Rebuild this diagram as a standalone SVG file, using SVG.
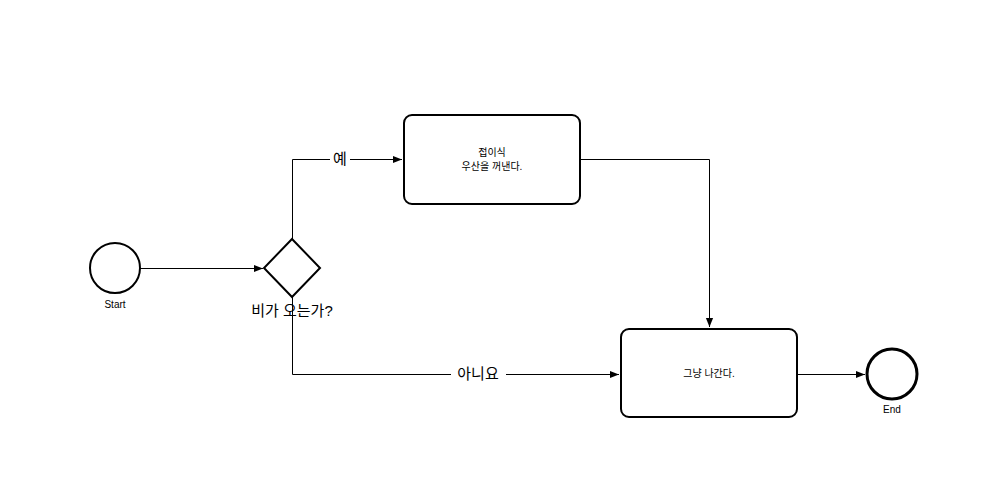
<svg xmlns="http://www.w3.org/2000/svg" width="990" height="490" viewBox="0 0 990 490">
<style>
.shape{fill:#fff;stroke:#000;stroke-width:2}
.edge{fill:none;stroke:#000;stroke-width:1}
.t{font-family:"Liberation Sans","Noto Sans CJK KR",sans-serif;fill:#000;text-anchor:middle}
.s{font-size:10px}
.l{font-size:15px}
</style>
<defs>
<marker id="arr" viewBox="0 0 10 10" refX="10" refY="5" markerWidth="9" markerHeight="9" markerUnits="userSpaceOnUse" orient="auto">
<path d="M0,1 L10,5 L0,9 Z" fill="#000"/>
</marker>
</defs>
<rect width="990" height="490" fill="#fff"/>
<g id="edges">
<path class="edge" d="M140,268.5 L263,268.5" marker-end="url(#arr)"/>
<path class="edge" d="M292.5,239 L292.5,159.5 L402,159.5" marker-end="url(#arr)"/>
<path class="edge" d="M292.5,297 L292.5,374.5 L619,374.5" marker-end="url(#arr)"/>
<path class="edge" d="M581,159.5 L709.5,159.5 L709.5,327" marker-end="url(#arr)"/>
<path class="edge" d="M798,374.5 L865,374.5" marker-end="url(#arr)"/>
<rect x="330" y="150" width="20" height="18" fill="#fff"/>
<text class="t l" x="340" y="164">예</text>
<rect x="451" y="365" width="55" height="18" fill="#fff"/>
<text class="t l" x="478" y="379">아니요</text>
</g>
<g id="start">
<circle class="shape" cx="115" cy="268" r="25"/>
<text class="t s" x="115" y="308">Start</text>
</g>
<g id="gateway">
<path class="shape" d="M292,239 L320,268 L292,297 L264,268 Z"/>
<text class="t l" x="292" y="316">비가 오는가?</text>
</g>
<g id="task1">
<rect class="shape" x="404" y="115" width="176" height="89" rx="8"/>
<text class="t s" x="492" y="156">접이식</text>
<text class="t s" x="492" y="170">우산을 꺼낸다.</text>
</g>
<g id="task2">
<rect class="shape" x="621" y="329" width="176" height="88" rx="8"/>
<text class="t s" x="709" y="377">그냥 나간다.</text>
</g>
<g id="end">
<circle cx="892" cy="374" r="25" fill="#fff" stroke="#000" stroke-width="3"/>
<text class="t s" x="892" y="413">End</text>
</g>
</svg>
